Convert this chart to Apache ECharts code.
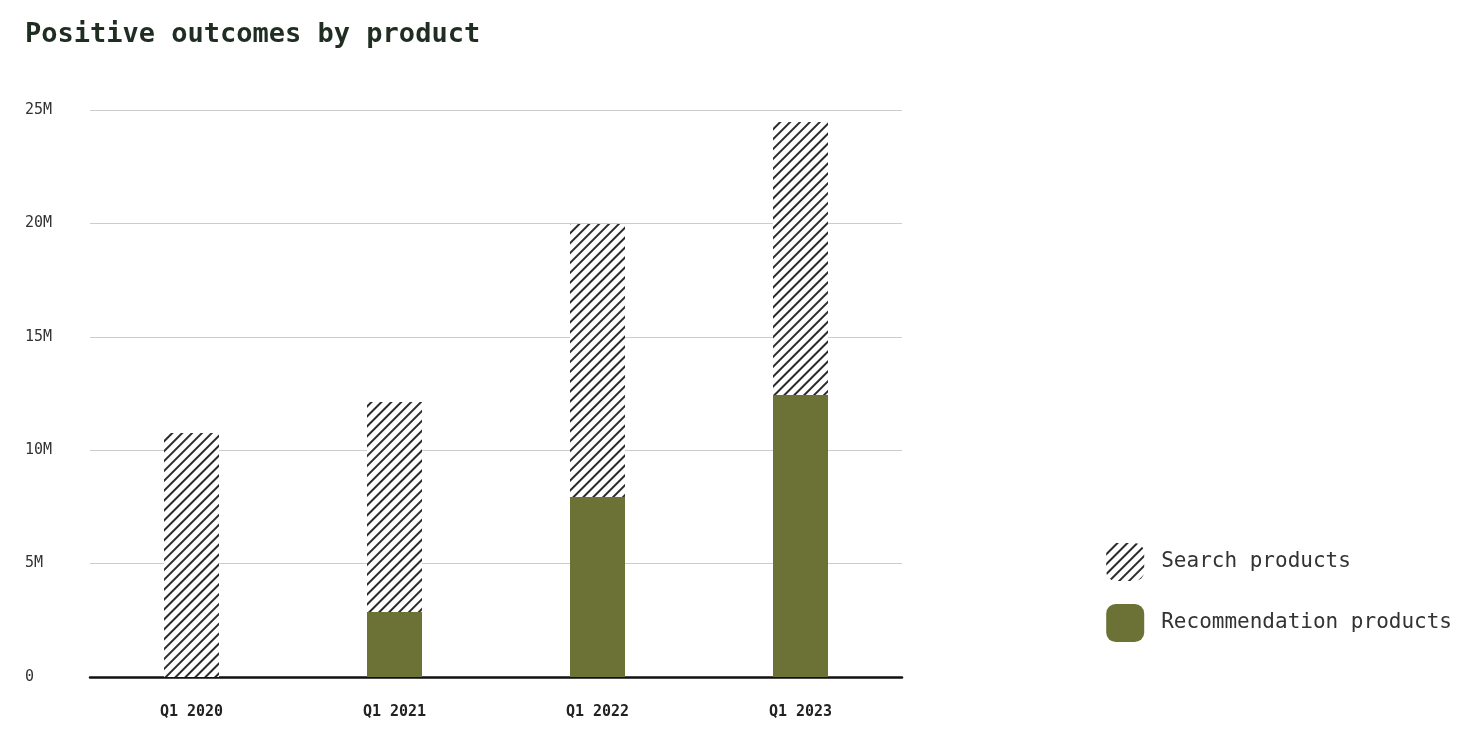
<!DOCTYPE html>
<html><head><meta charset="utf-8">
<script src="https://cdn.jsdelivr.net/npm/echarts@6/dist/echarts.min.js"></script>
<style>html,body{margin:0;padding:0;background:#fff}#c{width:1482px;height:752px}</style>
</head><body><div id="c"></div>
<script>
const categories = ['Q1 2020','Q1 2021','Q1 2022','Q1 2023'];
const recommendation = [0, 2.87, 7.94, 12.43];
const search = [10.76, 9.26, 12.03, 12.04];
const yTicks = ['0','5M','10M','15M','20M','25M'];
const mono = '"DejaVu Sans Mono","Liberation Mono",monospace';
const chart = echarts.init(document.getElementById('c'));
const hatch = {symbol:'rect', symbolSize:1, rotation:-Math.PI/4, dashArrayX:[1,0], dashArrayY:[2,5], color:'#2b2b2b', backgroundColor:'#ffffff'};
chart.setOption({
  animation:false,
  title:{text:'Positive outcomes by product', left:20, top:16, textStyle:{fontFamily:mono, fontWeight:'bold', fontSize:27, color:'#1f2d22'}},
  grid:{left:90, right:580, top:110, bottom:75},
  legend:{orient:'vertical', right:25, top:538, itemWidth:38, itemHeight:38, itemGap:23, icon:'roundRect',
    textStyle:{fontFamily:mono, fontSize:21, color:'#333', padding:[0,0,0,12]},
    data:['Search products','Recommendation products'], selectedMode:false},
  xAxis:{type:'category', data:categories, axisTick:{show:false},
    axisLine:{lineStyle:{color:'#111', width:2.5}},
    axisLabel:{fontFamily:mono, fontWeight:'bold', fontSize:15, color:'#222', margin:28}},
  yAxis:{type:'value', min:0, max:25, interval:5, axisLine:{show:false},
    splitLine:{lineStyle:{color:'#ccc'}},
    axisLabel:{fontFamily:mono, fontSize:15, color:'#333', align:'left', margin:65,
      formatter:(v)=>yTicks[Math.round(v/5)]}},
  series:[
    {name:'Recommendation products', type:'bar', stack:'a', barWidth:55, data:recommendation,
      itemStyle:{color:'#6c7135'}},
    {name:'Search products', type:'bar', stack:'a', barWidth:55, data:search,
      itemStyle:{color:'#ffffff', decal:hatch}}
  ]
});
</script></body></html>
